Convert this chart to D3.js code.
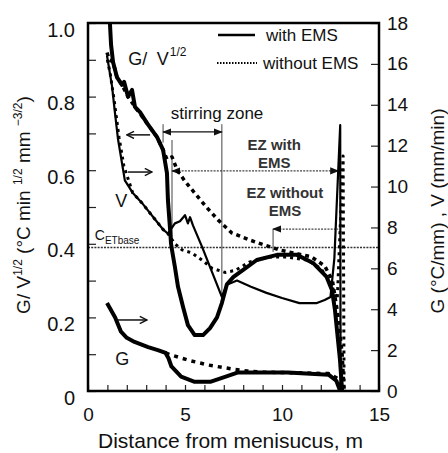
<!DOCTYPE html>
<html>
<head>
<meta charset="utf-8">
<script src="https://cdn.jsdelivr.net/npm/d3@7"></script>
<style>
  body { margin: 0; background: #fff; }
  text { font-family: "Liberation Sans", Arial, sans-serif; fill: #111; }
</style>
</head>
<body>
<div id="chart-area"></div>
<script>
// distance from meniscus (m) and values
// G/V^1/2 with EMS (left axis)
var gvEmsDist = [1.13, 1.19, 1.29, 1.49, 1.75, 1.86, 2.06, 2.27, 2.42, 2.68, 3.04, 3.56, 3.87, 4.07, 4.12, 4.23, 4.28, 4.33, 4.48, 4.64, 4.90, 5.15, 5.50, 5.93, 6.29, 6.65, 6.90, 7.16, 7.50, 8.00, 8.70, 9.74, 10.77, 11.60, 12.30, 12.58, 12.73, 12.99, 13.10];
var gvEms     = [1.00, 0.94, 0.894, 0.853, 0.832, 0.84, 0.80, 0.818, 0.772, 0.758, 0.728, 0.69, 0.655, 0.592, 0.519, 0.44, 0.40, 0.383, 0.337, 0.283, 0.228, 0.179, 0.152, 0.152, 0.171, 0.20, 0.239, 0.29, 0.31, 0.329, 0.356, 0.37, 0.37, 0.348, 0.31, 0.274, 0.22, 0.084, 0];
// G/V^1/2 without EMS (left axis)
var gvNoDist = [0.98, 1.10, 1.29, 1.49, 1.75, 2.06, 2.42, 3.04, 3.56, 3.87, 4.07, 4.33, 4.60, 5.00, 5.50, 6.10, 6.70, 7.40, 8.35, 9.20, 9.90, 10.60, 11.50, 12.20, 12.60, 12.90, 13.10, 13.20];
var gvNo     = [0.92, 0.90, 0.894, 0.853, 0.832, 0.80, 0.772, 0.728, 0.69, 0.655, 0.63, 0.636, 0.60, 0.57, 0.538, 0.50, 0.465, 0.43, 0.41, 0.395, 0.383, 0.375, 0.365, 0.34, 0.30, 0.20, 0.10, 0];
// V with EMS (right axis, mm/min)
var vEmsDist = [0.98, 1.24, 1.39, 1.55, 1.90, 2.30, 2.78, 3.45, 3.87, 4.12, 4.48, 4.74, 5.00, 5.15, 5.26, 5.41, 5.88, 6.40, 6.90, 7.16, 7.68, 8.40, 9.20, 10.00, 10.90, 11.80, 12.20, 12.50, 12.70, 13.00, 13.02];
var vEms     = [16.4, 14.9, 13.6, 12.3, 10.3, 9.7, 9.2, 8.4, 7.9, 7.7, 8.2, 8.3, 8.6, 8.2, 8.5, 8.1, 7.05, 5.8, 4.6, 5.2, 5.4, 5.1, 4.8, 4.55, 4.3, 4.3, 4.45, 4.6, 6.5, 13.0, 0];
// V without EMS (right axis)
var vNoDist = [1.00, 1.15, 1.35, 1.60, 1.85, 2.30, 2.78, 3.45, 3.87, 4.12, 4.48, 4.85, 5.36, 5.88, 6.40, 7.06, 7.60, 8.30, 9.30, 10.30, 11.30, 12.00, 12.50, 12.85, 13.15, 13.20];
var vNo     = [16.2, 15.5, 14.2, 12.4, 11.0, 9.7, 9.2, 8.4, 7.9, 7.7, 7.2, 6.9, 6.75, 6.4, 6.0, 5.8, 5.9, 6.3, 6.55, 6.55, 6.4, 6.0, 5.3, 4.5, 11.5, 0];
// G with EMS (right axis, degC/mm)
var gEmsDist = [0.98, 1.40, 1.70, 2.00, 2.40, 3.10, 3.60, 4.00, 4.15, 4.30, 4.80, 5.50, 6.30, 7.10, 7.70, 10.30, 12.40, 12.80, 13.00];
var gEms     = [4.3, 3.6, 2.9, 2.6, 2.4, 2.15, 2.0, 1.86, 1.6, 1.2, 0.7, 0.45, 0.45, 0.7, 0.9, 0.9, 0.8, 0.5, 0];
// G without EMS (right axis)
var gNoDist = [4.00, 4.30, 5.20, 6.20, 7.40, 8.20, 9.00, 10.30, 12.40, 12.90, 13.20];
var gNo     = [1.86, 1.76, 1.5, 1.27, 1.08, 0.98, 0.92, 0.9, 0.85, 0.6, 0];

var cEtBase = 0.39;
var stirZone = [3.87, 6.9];
var ezWith = [4.33, 12.9];
var ezWithout = [9.54, 12.9];

var xTicks = [0, 5, 10, 15];
var leftTicks = [0, 0.2, 0.4, 0.6, 0.8, 1.0];
var rightTicks = [0, 2, 4, 6, 8, 10, 12, 14, 16, 18];

var margin = {top: 23, right: 69, bottom: 62, left: 88};
var width = 448 - margin.left - margin.right;
var height = 453 - margin.top - margin.bottom;

var svg = d3.select('#chart-area')
    .append('svg')
        .attr('width', 448)
        .attr('height', 453);

var g = svg.append('g')
    .attr('transform', 'translate(' + margin.left + ', ' + margin.top + ')');

var defs = svg.append('defs');
defs.append('marker')
    .attr('id', 'open')
    .attr('viewBox', '0 0 10 10')
    .attr('refX', 9).attr('refY', 5)
    .attr('markerWidth', 9).attr('markerHeight', 9)
    .attr('markerUnits', 'userSpaceOnUse')
    .attr('orient', 'auto-start-reverse')
    .append('path')
        .attr('d', 'M1,1 L9,5 L1,9')
        .attr('fill', 'none')
        .attr('stroke', '#111')
        .attr('stroke-width', 1.6);
defs.append('marker')
    .attr('id', 'solidhead')
    .attr('viewBox', '0 0 10 10')
    .attr('refX', 9).attr('refY', 5)
    .attr('markerWidth', 9).attr('markerHeight', 9)
    .attr('markerUnits', 'userSpaceOnUse')
    .attr('orient', 'auto-start-reverse')
    .append('path')
        .attr('d', 'M0,1 L10,5 L0,9 Z')
        .attr('fill', '#111');

var x = d3.scaleLinear().domain([0, 15]).range([0, width]);
var yL = d3.scaleLinear().domain([0, 1]).range([height, 0]);
var yR = d3.scaleLinear().domain([0, 18]).range([height, 0]);

// axes, ticks pointing inside
var leftAxis = d3.axisLeft(yL)
    .tickValues(d3.range(0, 1.01, 0.1))
    .tickSizeInner(-8).tickSizeOuter(0).tickPadding(13)
    .tickFormat((d) => {
        var r = Math.round(d * 10) / 10;
        if (leftTicks.indexOf(r) < 0) return '';
        return r === 0 ? '0' : r.toFixed(1);
    });
g.append('g').attr('class', 'left axis').call(leftAxis)
    .call((a) => a.select('.domain').remove())
    .selectAll('text').attr('dy', '0.65em').attr('font-size', '20px');

var rightAxis = d3.axisRight(yR)
    .tickValues(rightTicks)
    .tickSizeInner(-8).tickSizeOuter(0).tickPadding(8);
g.append('g').attr('class', 'right axis')
    .attr('transform', 'translate(' + width + ', 0)')
    .call(rightAxis)
    .call((a) => a.select('.domain').remove())
    .selectAll('text').attr('font-size', '19px');

var bottomAxis = d3.axisBottom(x)
    .tickValues(d3.range(0, 16, 1))
    .tickSizeInner(-6).tickSizeOuter(0).tickPadding(20)
    .tickFormat((d) => xTicks.indexOf(d) >= 0 ? d : '');
g.append('g').attr('class', 'bottom axis')
    .attr('transform', 'translate(0, ' + height + ')')
    .call(bottomAxis)
    .call((a) => a.select('.domain').remove())
    .selectAll('text').attr('font-size', '19px').attr('dy', '0.55em');

g.selectAll('.axis line').attr('stroke', '#222').attr('stroke-width', 1.2);
g.selectAll('.axis text').style('fill', '#111').attr('font-family', '"Liberation Sans", Arial, sans-serif');

// reference lines and annotations (behind curves)
g.append('line')
    .attr('x1', 0).attr('x2', width)
    .attr('y1', yL(cEtBase)).attr('y2', yL(cEtBase))
    .attr('stroke', '#333').attr('stroke-width', 1.3).attr('stroke-dasharray', '2,1.2');

// stirring zone
g.append('line')
    .attr('x1', x(stirZone[0])).attr('x2', x(stirZone[0]))
    .attr('y1', yL(0.725)).attr('y2', yL(0.675))
    .attr('stroke', '#444').attr('stroke-width', 1);
g.append('line')
    .attr('x1', x(stirZone[1])).attr('x2', x(stirZone[1]))
    .attr('y1', yL(0.725)).attr('y2', yL(0.255))
    .attr('stroke', '#444').attr('stroke-width', 1);
g.append('line')
    .attr('x1', x(stirZone[0])).attr('x2', x(stirZone[1]))
    .attr('y1', yL(0.704)).attr('y2', yL(0.704))
    .attr('stroke', '#111').attr('stroke-width', 1.3)
    .attr('marker-start', 'url(#solidhead)').attr('marker-end', 'url(#solidhead)');
g.append('text')
    .attr('x', x(6.65)).attr('y', yL(0.74))
    .attr('text-anchor', 'middle').attr('font-size', '17px')
    .text('stirring zone');

// EZ with EMS
g.append('line')
    .attr('x1', x(ezWith[0])).attr('x2', x(ezWith[0]))
    .attr('y1', yL(0.682)).attr('y2', yL(0.41))
    .attr('stroke', '#444').attr('stroke-width', 1);
g.append('line')
    .attr('x1', x(ezWith[0])).attr('x2', x(ezWith[1]))
    .attr('y1', yL(0.598)).attr('y2', yL(0.598))
    .attr('stroke', '#444').attr('stroke-width', 1.3).attr('stroke-dasharray', '2,1.2')
    .attr('marker-start', 'url(#solidhead)').attr('marker-end', 'url(#solidhead)');
// EZ without EMS
g.append('line')
    .attr('x1', x(ezWithout[0])).attr('x2', x(ezWithout[0]))
    .attr('y1', yL(0.44)).attr('y2', yL(0.378))
    .attr('stroke', '#444').attr('stroke-width', 1);
g.append('line')
    .attr('x1', x(ezWithout[0])).attr('x2', x(ezWithout[1]))
    .attr('y1', yL(0.44)).attr('y2', yL(0.44))
    .attr('stroke', '#444').attr('stroke-width', 1.3).attr('stroke-dasharray', '2,1.2')
    .attr('marker-start', 'url(#solidhead)');

var ezText = g.append('g').attr('font-size', '15px').attr('font-weight', 'bold').attr('text-anchor', 'middle');
ezText.append('text').attr('x', x(9.6)).attr('y', yL(0.655)).style('fill', '#333').text('EZ with');
ezText.append('text').attr('x', x(9.6)).attr('y', yL(0.607)).style('fill', '#333').text('EMS');
ezText.append('text').attr('x', x(10.15)).attr('y', yL(0.524)).style('fill', '#333').text('EZ without');
ezText.append('text').attr('x', x(10.15)).attr('y', yL(0.476)).style('fill', '#333').text('EMS');

// curves
function pts(xs, ys) {
    return xs.map((d, i) => [d, ys[i]]);
}
var lineL = d3.line().x((d) => x(d[0])).y((d) => yL(d[1]));
var lineR = d3.line().x((d) => x(d[0])).y((d) => yR(d[1]));

var series = [
    {data: pts(gvNoDist, gvNo), line: lineL, w: 3.5, dash: '4,4'},
    {data: pts(vNoDist, vNo), line: lineR, w: 3, dash: '3,4'},
    {data: pts(gNoDist, gNo), line: lineR, w: 3.5, dash: '4,5'},
    {data: pts(gvEmsDist, gvEms), line: lineL, w: 4, dash: null},
    {data: pts(vEmsDist, vEms), line: lineR, w: 2.2, dash: null},
    {data: pts(gEmsDist, gEms), line: lineR, w: 4, dash: null}
];
series.forEach((s) => {
    g.append('path')
        .attr('d', s.line(s.data))
        .attr('fill', 'none')
        .attr('stroke', '#000')
        .attr('stroke-width', s.w)
        .attr('stroke-linejoin', 'round')
        .attr('stroke-dasharray', s.dash);
});

// curve labels and pointer arrows
g.append('text').attr('x', x(2.07)).attr('y', yL(0.885)).attr('font-size', '18px').text('G/');
g.append('text').attr('x', x(3.55)).attr('y', yL(0.885)).attr('font-size', '18px').text('V');
g.append('text').attr('x', x(4.22)).attr('y', yL(0.91)).attr('font-size', '12px').text('1/2');
g.append('text').attr('x', x(1.4)).attr('y', yL(0.50)).attr('font-size', '18px').text('V');
g.append('text').attr('x', x(1.4)).attr('y', yL(0.07)).attr('font-size', '18px').text('G');
g.append('text').attr('x', x(0.35)).attr('y', yL(0.41)).attr('font-size', '14px').text('C')
    .append('tspan').attr('font-size', '10px').attr('dy', '4').text('ETbase');

g.append('line')
    .attr('x1', x(3.2)).attr('x2', x(2.0))
    .attr('y1', yL(0.696)).attr('y2', yL(0.696))
    .attr('stroke', '#111').attr('stroke-width', 1.5).attr('marker-end', 'url(#open)');
g.append('line')
    .attr('x1', x(2.06)).attr('x2', x(3.3))
    .attr('y1', yL(0.595)).attr('y2', yL(0.595))
    .attr('stroke', '#111').attr('stroke-width', 1.5).attr('marker-end', 'url(#open)');
g.append('line')
    .attr('x1', x(1.5)).attr('x2', x(3.04))
    .attr('y1', yL(0.193)).attr('y2', yL(0.193))
    .attr('stroke', '#111').attr('stroke-width', 1.5).attr('marker-end', 'url(#open)');

// legend
var legend = g.append('g').attr('transform', 'translate(130, 12)');
legend.append('line').attr('x1', 0).attr('x2', 37).attr('y1', 0).attr('y2', 0)
    .attr('stroke', '#000').attr('stroke-width', 2.5);
legend.append('text').attr('x', 48).attr('y', 6).attr('font-size', '17px').text('with EMS');
legend.append('line').attr('x1', -1).attr('x2', 39).attr('y1', 28).attr('y2', 28)
    .attr('stroke', '#000').attr('stroke-width', 2).attr('stroke-dasharray', '1.5,1.5');
legend.append('text').attr('x', 45).attr('y', 34).attr('font-size', '17px').text('without EMS');

// frame
g.append('rect')
    .attr('x', 0).attr('y', 0)
    .attr('width', width).attr('height', height)
    .attr('fill', 'none').attr('stroke', '#000').attr('stroke-width', 2.5);

// axis titles
g.append('text')
    .attr('x', width / 2 - 3)
    .attr('y', height + 57)
    .attr('font-size', '21px')
    .attr('text-anchor', 'middle')
    .text('Distance from menisucus, m');

var lt = svg.append('text')
    .attr('transform', 'translate(30, 205) rotate(-90)')
    .attr('text-anchor', 'middle')
    .attr('font-size', '19px');
lt.append('tspan').text('G/ V');
lt.append('tspan').attr('font-size', '12px').attr('dy', '-8').text('1/2');
lt.append('tspan').attr('dy', '8').text(' (°C min ');
lt.append('tspan').attr('font-size', '12px').attr('dy', '-8').text('1/2');
lt.append('tspan').attr('dy', '8').text(' mm ');
lt.append('tspan').attr('font-size', '12px').attr('dy', '-8').text('−3/2');
lt.append('tspan').attr('dy', '8').text(')');

svg.append('text')
    .attr('transform', 'translate(444, 211) rotate(-90)')
    .attr('text-anchor', 'middle')
    .attr('font-size', '19px')
    .text('G (°C/mm) , V (mm/min)');
</script>
</body>
</html>
